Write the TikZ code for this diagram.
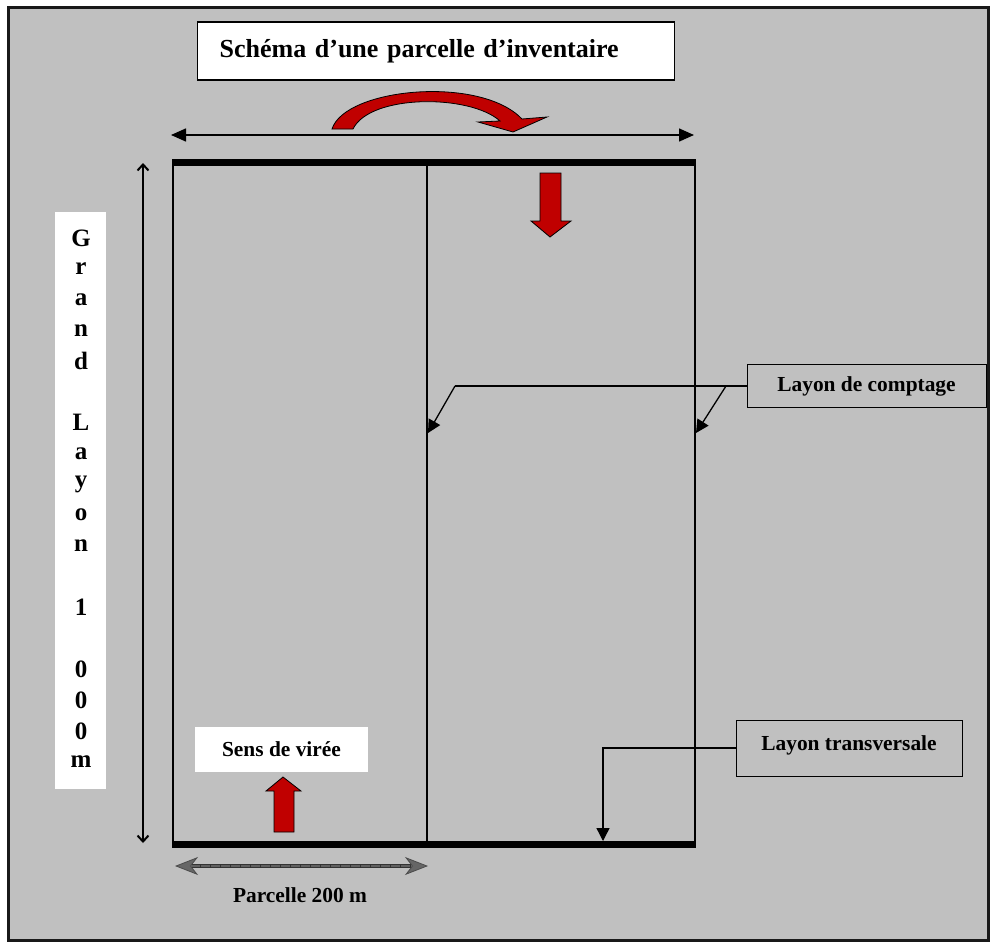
\documentclass[tikz,border=0pt]{standalone}
\usepackage{fontspec}
\setmainfont{Liberation Serif}
\usetikzlibrary{arrows.meta}

\definecolor{fondgris}{RGB}{192,192,192}
\definecolor{rougefleche}{RGB}{192,0,0}

\tikzset{
	txt/.style={font=\bfseries\fontsize{21.4}{25}\selectfont, inner sep=0pt},
	grostxt/.style={font=\bfseries\fontsize{26}{30}\selectfont},
	lettre/.style={font=\bfseries\fontsize{25}{28}\selectfont, inner sep=0pt},
	fleche rouge/.style={fill=rougefleche, draw=black, line width=0.8pt, line join=miter},
	renvoi/.style={line width=1.3pt, -{Triangle[length=13pt,width=13pt]}},
	PointeGrise/.tip={Stealth[length=23pt,width=18pt,inset=7pt,fill=gray!80!black,color=black!70,line width=0.8pt]},
}

\begin{document}
\begin{tikzpicture}[x=1pt, y=-1pt]
	\useasboundingbox (0,0) rectangle (992,942);
	\draw[line width=3pt, draw=black!90, fill=fondgris] (8,8) rectangle (988,940);

	% titre
	\node[grostxt, draw, fill=white, line width=1.2pt, anchor=west, minimum height=58pt,
		text width=433pt, inner xsep=22pt, align=left] (titre) at (197,51) {Schéma d’une parcelle d’inventaire};

	% la parcelle
	\coordinate (NO) at (173,162);
	\coordinate (NE) at (695,162);
	\coordinate (SO) at (173,844);
	\coordinate (SE) at (695,844);
	\coordinate (milN) at (427,162);
	\coordinate (milS) at (427,844);
	\draw[line width=2.5pt] (NO) -- (SO) (NE) -- (SE);
	\draw[line width=1.2pt] (milN) -- (milS);
	\draw[line width=7pt] ([xshift=-1pt]NO) -- ([xshift=1pt]NE);
	\draw[line width=7pt] ([xshift=-1pt]SO) -- ([xshift=1pt]SE);

	% fleche horizontale du haut
	\coordinate (hg) at (171,135);
	\coordinate (hd) at (694,135);
	\draw[line width=1.5pt, {Triangle[length=15pt,width=13pt]}-{Triangle[length=15pt,width=13pt]}] (hg) -- (hd);

	% grand layon
	\coordinate (vh) at (143,163);
	\coordinate (vb) at (143,843);
	\draw[line width=2pt, {Straight Barb[length=6pt,width=11pt]}-{Straight Barb[length=6pt,width=11pt]}] (vh) -- (vb);
	\node[fill=white, minimum width=51pt, minimum height=577pt, inner sep=0pt] (grandlayon) at (80.5,500.5) {};
	\foreach \c [count=\i] in {G,r,a,n,d,{},L,a,y,o,n,{},1,{},0,0,0,m}
		\node[lettre] (l\i) at (81,{238+(\i-1)*30.8}) {\c};

	% sens de viree (fleches rouges)
	\draw[fleche rouge] (332,129) .. controls (345,88) and (480,75) .. (522,119) -- (547,117) -- (513,132)
		-- (478,122) -- (500,121) .. controls (470,94) and (370,94) .. (353,129) -- cycle;
	\draw[fleche rouge] (540,173) -- (561,173) -- (561,221) -- (571,221) -- (550,237) -- (531,221) -- (540,221) -- cycle;
	\draw[fleche rouge] (274,832) -- (294,832) -- (294,791) -- (301,791) -- (283,777) -- (266,791) -- (274,791) -- cycle;
	\node[txt, fill=white, minimum width=173pt, minimum height=45pt] (sens) at (281.5,749.5) {Sens de virée};

	% layons de comptage
	\node[txt, draw, fill=fondgris, line width=1pt, minimum width=239pt, minimum height=43pt] (comptage) at (866.5,386) {Layon de comptage};
	\coordinate (kA) at (455,386);
	\coordinate (kB) at (726,386);
	\coordinate (tA) at (428,433);
	\coordinate (tB) at (696,433);
	\draw[line width=1.3pt] (comptage.west) -- (kA);
	\draw[renvoi] (kA) -- (tA);
	\draw[renvoi] (kB) -- (tB);

	% layon transversal
	\node[txt, draw, fill=fondgris, line width=1pt, minimum width=226pt, minimum height=56pt, text depth=10pt] (transv) at (849,748) {Layon transversale};
	\coordinate (kT) at (603,748);
	\coordinate (tT) at (603,841);
	\draw[renvoi] (transv.west) -- (kT) -- (tT);

	% largeur de la parcelle
	\coordinate (pg) at (175,866);
	\coordinate (pd) at (428,866);
	\draw[line width=4pt, draw=gray!40!black, PointeGrise-PointeGrise] (pg) -- (pd);
	\draw[line width=1.6pt, draw=gray!75!black, dash pattern=on 9pt off 1pt] ([xshift=16pt]pg) -- ([xshift=-16pt]pd);
	\node[txt] (parcelle) at (300,895) {Parcelle 200 m};
\end{tikzpicture}
\end{document}
